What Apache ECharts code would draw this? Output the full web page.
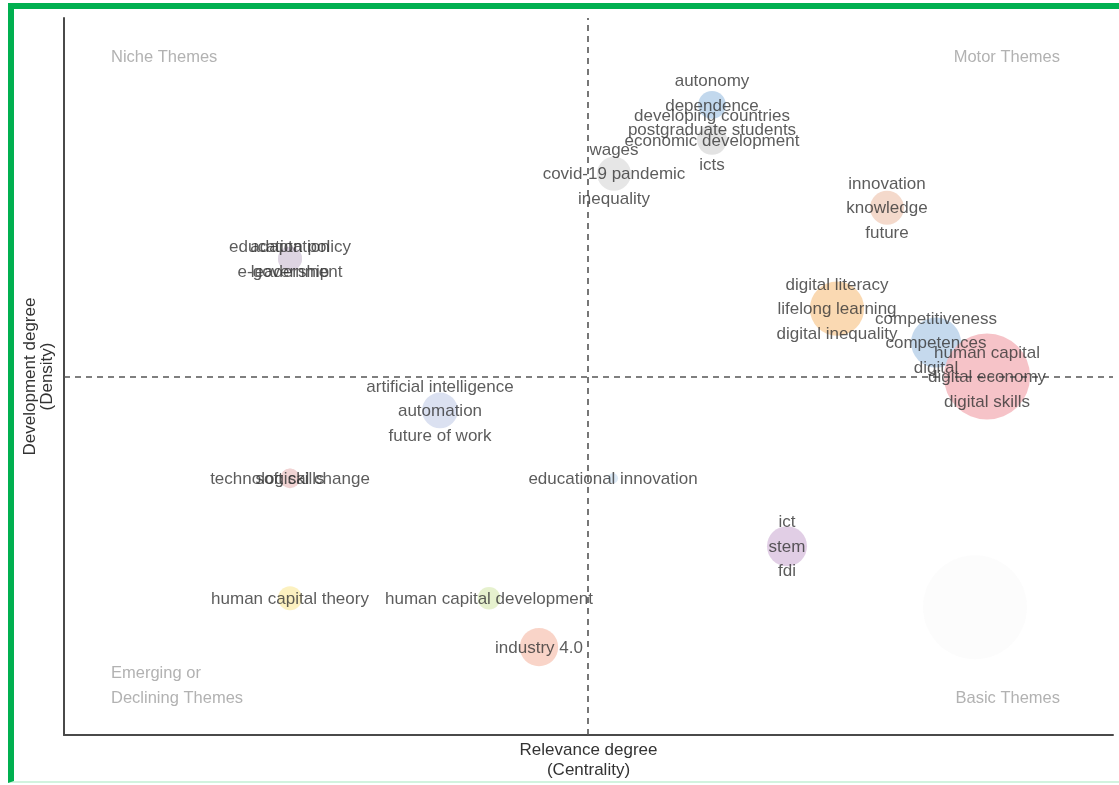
<!DOCTYPE html>
<html>
<head>
<meta charset="utf-8">
<script src="https://cdn.jsdelivr.net/npm/echarts@6/dist/echarts.min.js"></script>
<style>
html,body{margin:0;padding:0;background:#fff;width:1119px;height:785px;overflow:hidden;}
#frame{position:absolute;left:8px;top:3px;width:1200px;height:772px;border-top:6px solid #00b050;border-left:6px solid #00b050;border-bottom:2px solid #d2f3df;box-sizing:content-box;}
#chart{position:absolute;left:0;top:0;width:1119px;height:785px;}
</style>
</head>
<body>
<div id="frame"></div>
<div id="chart"></div>
<script>
// Thematic map data (centrality = relevance degree, density = development degree)
const clusterLabels = [
  ['autonomy', 'dependence', 'postgraduate students'],
  ['developing countries', 'economic development', 'icts'],
  ['wages', 'covid-19 pandemic', 'inequality'],
  ['innovation', 'knowledge', 'future'],
  ['education policy', 'e-government'],
  ['adaptation', 'leadership'],
  ['digital literacy', 'lifelong learning', 'digital inequality'],
  ['competitiveness', 'competences', 'digital'],
  ['human capital', 'digital economy', 'digital skills'],
  ['artificial intelligence', 'automation', 'future of work'],
  ['technological change'],
  ['soft skills'],
  ['educational innovation'],
  ['ict', 'stem', 'fdi'],
  ['human capital theory'],
  ['human capital development'],
  ['industry 4.0'],
  []
];
const centrality = [6.48, 6.48, 5.50, 8.23, 2.26, 2.26, 7.73, 8.72, 9.23, 3.76, 2.26, 2.26, 5.49, 7.23, 2.26, 4.25, 4.75, 9.11];
const density    = [6.31, 5.96, 5.62, 5.28, 4.77, 4.77, 4.27, 3.93, 3.59, 3.25, 2.57, 2.57, 2.57, 1.89, 1.37, 1.37, 0.88, 1.28];
const frequency  = [12, 14, 18, 18, 9, 9, 46, 39, 116, 20, 6, 6, 1.6, 25, 9, 8, 23, 169];
const meanCentrality = 5.24;
const meanDensity = 3.59;
const quadrantNames = ['Niche Themes', 'Motor Themes', 'Emerging or\nDeclining Themes', 'Basic Themes'];

// styles
const palette = ['#b7d1ea', '#dedede', '#e2e2e2', '#f2d2c2', '#ddd4e2', '#ddd4e2', '#f9d2a4', '#bbd2ea', '#f4b8be',
  '#d5dcee', '#f1d3d3', '#f1d3d3', '#d6e5f3', '#dcc6e1', '#fbefb5', '#e2efc6', '#f8ccbe', '#fbfbfb'];
const FONT = "'Liberation Sans', Arial, sans-serif";

const bubbles = centrality.map((c, i) => ({
  value: [c, density[i], frequency[i]],
  itemStyle: { color: palette[i] }
}));
const labelPts = centrality.map((c, i) => ({
  value: [c, density[i]],
  label: { formatter: clusterLabels[i].join('\n') }
}));

const chart = echarts.init(document.getElementById('chart'), null, { renderer: 'canvas' });
chart.setOption({
  animation: false,
  backgroundColor: 'transparent',
  grid: { left: 64, right: 6, top: 18, bottom: 48 },
  xAxis: {
    type: 'value', min: 0, max: 10.49,
    axisLine: { show: true, onZero: false, lineStyle: { color: '#4a4a4a', width: 2 } },
    axisTick: { show: false }, axisLabel: { show: false }, splitLine: { show: false },
    name: 'Relevance degree\n(Centrality)', nameLocation: 'middle', nameGap: 5,
    nameTextStyle: { fontFamily: FONT, fontSize: 17, color: '#333', lineHeight: 20, verticalAlign: 'top' }
  },
  yAxis: {
    type: 'value', min: 0, max: 7.18,
    axisLine: { show: true, onZero: false, lineStyle: { color: '#4a4a4a', width: 2 } },
    axisTick: { show: false }, axisLabel: { show: false }, splitLine: { show: false },
    name: 'Development degree\n(Density)', nameLocation: 'middle', nameGap: 8, nameRotate: 90,
    nameTextStyle: { fontFamily: FONT, fontSize: 17, color: '#333', lineHeight: 17, verticalAlign: 'bottom' }
  },
  series: [
    {
      type: 'scatter', z: 2,
      data: bubbles,
      symbolSize: v => 8 * Math.sqrt(v[2]),
      itemStyle: { opacity: 0.85 },
      silent: true,
      markLine: {
        silent: true, symbol: 'none', label: { show: false },
        lineStyle: { color: '#555', width: 1.6, type: [6, 5] },
        data: [{ xAxis: meanCentrality }, { yAxis: meanDensity }]
      }
    },
    {
      type: 'scatter', z: 5,
      data: labelPts,
      symbolSize: 0,
      silent: true,
      label: {
        show: true, position: 'inside', offset: [0, 1], fontFamily: FONT, fontSize: 17, color: '#333',
        lineHeight: 24.5, align: 'center', verticalAlign: 'middle'
      }
    }
  ],
  graphic: [
    { type: 'text', left: 111, top: 49, style: { text: quadrantNames[0], font: '16.5px ' + FONT, fill: '#b2b2b2' } },
    { type: 'text', right: 59, top: 49, style: { text: quadrantNames[1], font: '16.5px ' + FONT, fill: '#b2b2b2' } },
    { type: 'text', left: 111, top: 661, style: { text: quadrantNames[2], font: '16.5px ' + FONT, fill: '#b2b2b2', lineHeight: 25 } },
    { type: 'text', right: 59, top: 690, style: { text: quadrantNames[3], font: '16.5px ' + FONT, fill: '#b2b2b2' } }
  ]
});
</script>
</body>
</html>
